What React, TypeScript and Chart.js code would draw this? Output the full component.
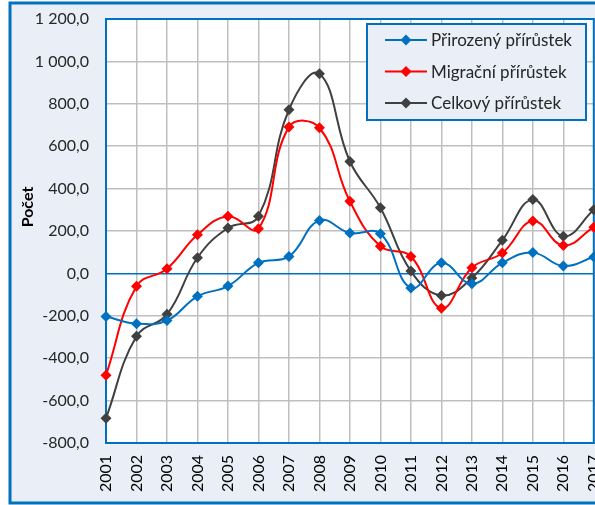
import React, { useEffect, useRef } from "react";
import { Chart, registerables } from "chart.js";

Chart.register(...registerables);

const years = ["2001","2002","2003","2004","2005","2006","2007","2008","2009","2010","2011","2012","2013","2014","2015","2016","2017"];
const prirozeny = [-203, -237, -222, -108, -60, 50, 80, 250, 190, 187, -69, 50, -49, 50, 98, 35, 77];
const migracni = [-480, -61, 22, 182, 269, 211, 690, 687, 340, 128, 80, -164, 27, 96, 247, 132, 218];
const celkovy = [-683, -297, -193, 74, 214, 269, 772, 942, 528, 310, 11, -104, -22, 156, 348, 175, 300];
const seriesNames = ["Přirozený přírůstek", "Migrační přírůstek", "Celkový přírůstek"];
const seriesColors = ["#0070C0", "#FF0000", "#404040"];
const yTitle = "Počet";

const BLUE = "#0070C0";
const BG = "#EAEEF6";
const FONT = "Lato";

function fmt(v: number) {
  const neg = v < 0;
  const a = Math.abs(v);
  const s = Math.round(a).toString().replace(/\B(?=(\d{3})+(?!\d))/g, " ");
  return (neg ? "-" : "") + s + ",0";
}

const framePlugin = {
  id: "frame",
  beforeDraw(chart: any) {
    const { ctx, width, height, chartArea } = chart;
    ctx.save();
    ctx.fillStyle = "#FFFFFF";
    ctx.fillRect(0, 0, width, height);
    ctx.fillStyle = BG;
    ctx.fillRect(10, 3, width, 500);
    ctx.strokeStyle = BLUE;
    ctx.lineWidth = 3;
    ctx.strokeRect(10, 3, width + 20, 500);
    ctx.fillStyle = "#FFFFFF";
    ctx.fillRect(chartArea.left, chartArea.top, chartArea.right - chartArea.left, chartArea.bottom - chartArea.top);
    ctx.restore();
  },
  beforeDatasetsDraw(chart: any) {
    const { ctx, chartArea } = chart;
    ctx.save();
    ctx.strokeStyle = BLUE;
    ctx.lineWidth = 2;
    ctx.strokeRect(chartArea.left, chartArea.top, chartArea.right - chartArea.left, chartArea.bottom - chartArea.top);
    ctx.restore();
  },
  afterDraw(chart: any) {
    const { ctx } = chart;
    ctx.save();
    ctx.translate(28, 207);
    ctx.rotate(-Math.PI / 2);
    ctx.font = `bold 16px ${FONT}`;
    ctx.fillStyle = "#000000";
    ctx.textAlign = "center";
    ctx.textBaseline = "middle";
    ctx.fillText(yTitle, 0, 0);
    ctx.restore();

    ctx.save();
    const lx = 367, ly = 24, lw = 219, lh = 96;
    ctx.fillStyle = BG;
    ctx.fillRect(lx, ly, lw, lh);
    ctx.strokeStyle = BLUE;
    ctx.lineWidth = 2;
    ctx.strokeRect(lx, ly, lw, lh);
    chart.data.datasets.forEach((ds: any, i: number) => {
      const cy = 40 + i * 31.5;
      ctx.strokeStyle = ds.borderColor;
      ctx.lineWidth = 2;
      ctx.beginPath();
      ctx.moveTo(385, cy);
      ctx.lineTo(427, cy);
      ctx.stroke();
      ctx.fillStyle = ds.borderColor;
      ctx.beginPath();
      ctx.moveTo(406, cy - 5.5);
      ctx.lineTo(411.5, cy);
      ctx.lineTo(406, cy + 5.5);
      ctx.lineTo(400.5, cy);
      ctx.closePath();
      ctx.fill();
      ctx.fillStyle = "#262626";
      ctx.font = `17px ${FONT}`;
      ctx.textAlign = "left";
      ctx.textBaseline = "middle";
      ctx.fillText(ds.label, 431, cy + 1);
    });
    ctx.restore();
  },
};

export default function App() {
  const ref = useRef<HTMLCanvasElement | null>(null);
  useEffect(() => {
    if (!ref.current) return;
    const mk = (data: number[], i: number) => ({
      label: seriesNames[i],
      data,
      borderColor: seriesColors[i],
      backgroundColor: seriesColors[i],
      borderWidth: 2,
      pointStyle: "rectRot" as const,
      pointRadius: 5.5,
      pointBorderWidth: 0,
      tension: 0.42,
      clip: false as const,
    });
    const chart = new Chart(ref.current, {
      type: "line",
      data: {
        labels: years,
        datasets: [mk(prirozeny, 0), mk(migracni, 1), mk(celkovy, 2)],
      },
      options: {
        responsive: false,
        animation: false,
        devicePixelRatio: 1,
        layout: { padding: { left: 12, right: 31, top: 19, bottom: 12 } },
        plugins: { legend: { display: false }, tooltip: { enabled: false } },
        scales: {
          x: {
            offset: false,
            grid: { color: "#BFBFBF", lineWidth: 1.5, drawTicks: false },
            border: { color: BLUE, width: 2 },
            ticks: {
              minRotation: 90,
              maxRotation: 90,
              padding: 12,
              color: "#000000",
              font: { family: FONT, size: 16 },
              autoSkip: false,
            },
            afterFit(scale: any) {
              scale.height = 50;
              scale.paddingTop = 0;
              scale.paddingBottom = 0;
            },
          },
          y: {
            min: -800,
            max: 1200,
            grid: {
              color: (c: any) => (c.tick && c.tick.value === 0 ? BLUE : "#BFBFBF"),
              lineWidth: 1.5,
              drawTicks: false,
            },
            border: { color: BLUE, width: 2 },
            ticks: {
              stepSize: 200,
              padding: 17,
              color: "#262626",
              font: { family: FONT, size: 16 },
              callback: (v: any) => fmt(Number(v)),
            },
            afterFit(scale: any) {
              scale.width = 94;
              scale.paddingTop = 0;
              scale.paddingBottom = 0;
            },
          },
        },
      },
      plugins: [framePlugin],
    });
    return () => chart.destroy();
  }, []);
  return (
    <div style={{ position: "absolute", left: 0, top: 0, width: 595, height: 505, overflow: "hidden" }}>
      <canvas ref={ref} width={625} height={505} style={{ display: "block", width: 625, height: 505 }} />
    </div>
  );
}
